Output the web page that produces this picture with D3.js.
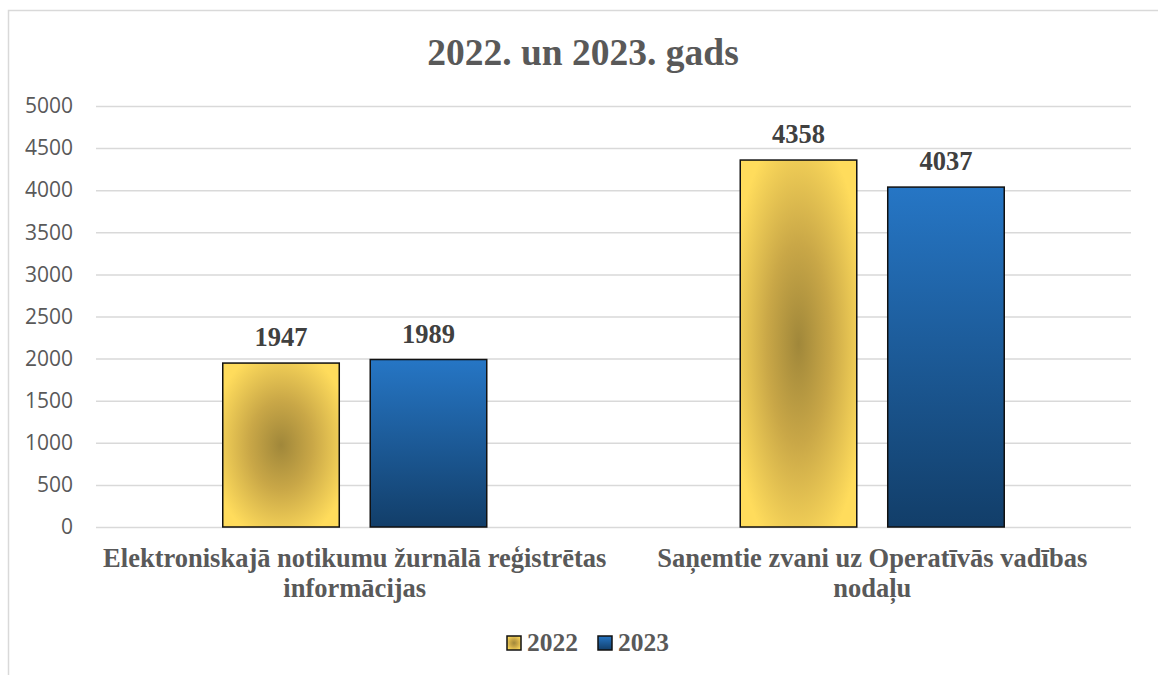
<!DOCTYPE html>
<html><head><meta charset="utf-8">
<script src="https://cdn.jsdelivr.net/npm/d3@7/dist/d3.min.js"></script>
<style>body{margin:0;background:#fff;}svg{display:block;}</style>
</head><body>
<svg id="chart" width="1158" height="675"></svg>
<script>
const title = "2022. un 2023. gads";
const categories = ["Elektroniskajā notikumu žurnālā reģistrētas\ninformācijas", "Saņemtie zvani uz Operatīvās vadības\nnodaļu"];
const seriesNames = ["2022", "2023"];
const values2022 = [1947, 4358];
const values2023 = [1989, 4037];
const yTicks = [0, 500, 1000, 1500, 2000, 2500, 3000, 3500, 4000, 4500, 5000];

(function () {
const seriesValues = { "2022": values2022, "2023": values2023 };
const svg = d3.select("#chart");
const defs = svg.append("defs");
const rg = defs.append("radialGradient").attr("id", "g2022").attr("cx", "50%").attr("cy", "50%").attr("r", "60%");
rg.append("stop").attr("offset", "0%").attr("stop-color", "#a0873a");
rg.append("stop").attr("offset", "45%").attr("stop-color", "#c9a747");
rg.append("stop").attr("offset", "100%").attr("stop-color", "#ffdc5c");
const lg = defs.append("linearGradient").attr("id", "g2023").attr("x1", 0).attr("y1", 0).attr("x2", 0).attr("y2", 1);
lg.append("stop").attr("offset", "0%").attr("stop-color", "#2676c5");
lg.append("stop").attr("offset", "100%").attr("stop-color", "#123e69");
const fills = { "2022": "url(#g2022)", "2023": "url(#g2023)" };

svg.append("rect").attr("x", 8.5).attr("y", 10.5).attr("width", 1200).attr("height", 700)
  .attr("fill", "#fff").attr("stroke", "#d9d9d9").attr("stroke-width", 1.5);

const pL = 96, pR = 1131, pT = 106, pB = 527;
const y = d3.scaleLinear().domain([0, 5000]).range([pB, pT]);
const x0 = d3.scaleBand().domain(categories).range([pL, pR]).padding(0);
const x1 = d3.scaleBand().domain(seriesNames).range([0, 264]).paddingInner(0.21).paddingOuter(0);
const off = (x0.bandwidth() - 264) / 2;

const yAxis = d3.axisLeft(y).tickValues(yTicks).tickSize(-(pR - pL)).tickPadding(23).tickFormat(d3.format("d"));
const ga = svg.append("g").attr("transform", `translate(${pL},0)`).call(yAxis);
ga.select(".domain").remove();
ga.selectAll(".tick line").attr("stroke", "#d9d9d9").attr("stroke-width", 1.5);
ga.selectAll(".tick text").attr("fill", "#595959").style("font-family", "'Open Sans', sans-serif").style("font-size", "21px");

const groups = svg.append("g").selectAll("g").data(categories).join("g")
  .attr("transform", d => `translate(${x0(d) + off},0)`);
groups.selectAll("rect").data((d, i) => seriesNames.map(s => ({ s, v: seriesValues[s][i] }))).join("rect")
  .attr("x", d => x1(d.s)).attr("width", x1.bandwidth())
  .attr("y", d => y(d.v)).attr("height", d => pB - y(d.v))
  .attr("fill", d => fills[d.s]).attr("stroke", "#111").attr("stroke-width", 1.5);
groups.selectAll("text").data((d, i) => seriesNames.map(s => ({ s, v: seriesValues[s][i] }))).join("text")
  .attr("x", d => x1(d.s) + x1.bandwidth() / 2).attr("y", d => y(d.v) - 17)
  .attr("text-anchor", "middle").attr("fill", "#404040")
  .style("font-family", "'Liberation Serif', 'Times New Roman', serif").style("font-weight", "bold").style("font-size", "26.5px")
  .text(d => d.v);

const cl = svg.append("g").selectAll("text").data(categories).join("text")
  .attr("text-anchor", "middle").attr("fill", "#595959")
  .style("font-family", "'Liberation Serif', 'Times New Roman', serif").style("font-weight", "bold").style("font-size", "26.5px");
cl.each(function (d) {
  const t = d3.select(this);
  d.split("\n").forEach((line, i) => {
    t.append("tspan").attr("x", x0(d) + x0.bandwidth() / 2).attr("y", 567 + i * 30).text(line);
  });
});

svg.append("text").attr("x", 583).attr("y", 65).attr("text-anchor", "middle").attr("fill", "#595959")
  .style("font-family", "'Liberation Serif', 'Times New Roman', serif").style("font-weight", "bold").style("font-size", "37.5px")
  .text(title);

const legendX = [507, 598];
const lgd = svg.append("g").selectAll("g").data(seriesNames).join("g")
  .attr("transform", (d, i) => `translate(${legendX[i]},636)`);
lgd.append("rect").attr("width", 14).attr("height", 14).attr("fill", d => fills[d]).attr("stroke", "#111").attr("stroke-width", 1.5);
lgd.append("text").attr("x", 20).attr("y", 15).attr("fill", "#595959")
  .style("font-family", "'Liberation Serif', 'Times New Roman', serif").style("font-weight", "bold").style("font-size", "25.5px")
  .text(d => d);
})();
</script>
</body></html>
